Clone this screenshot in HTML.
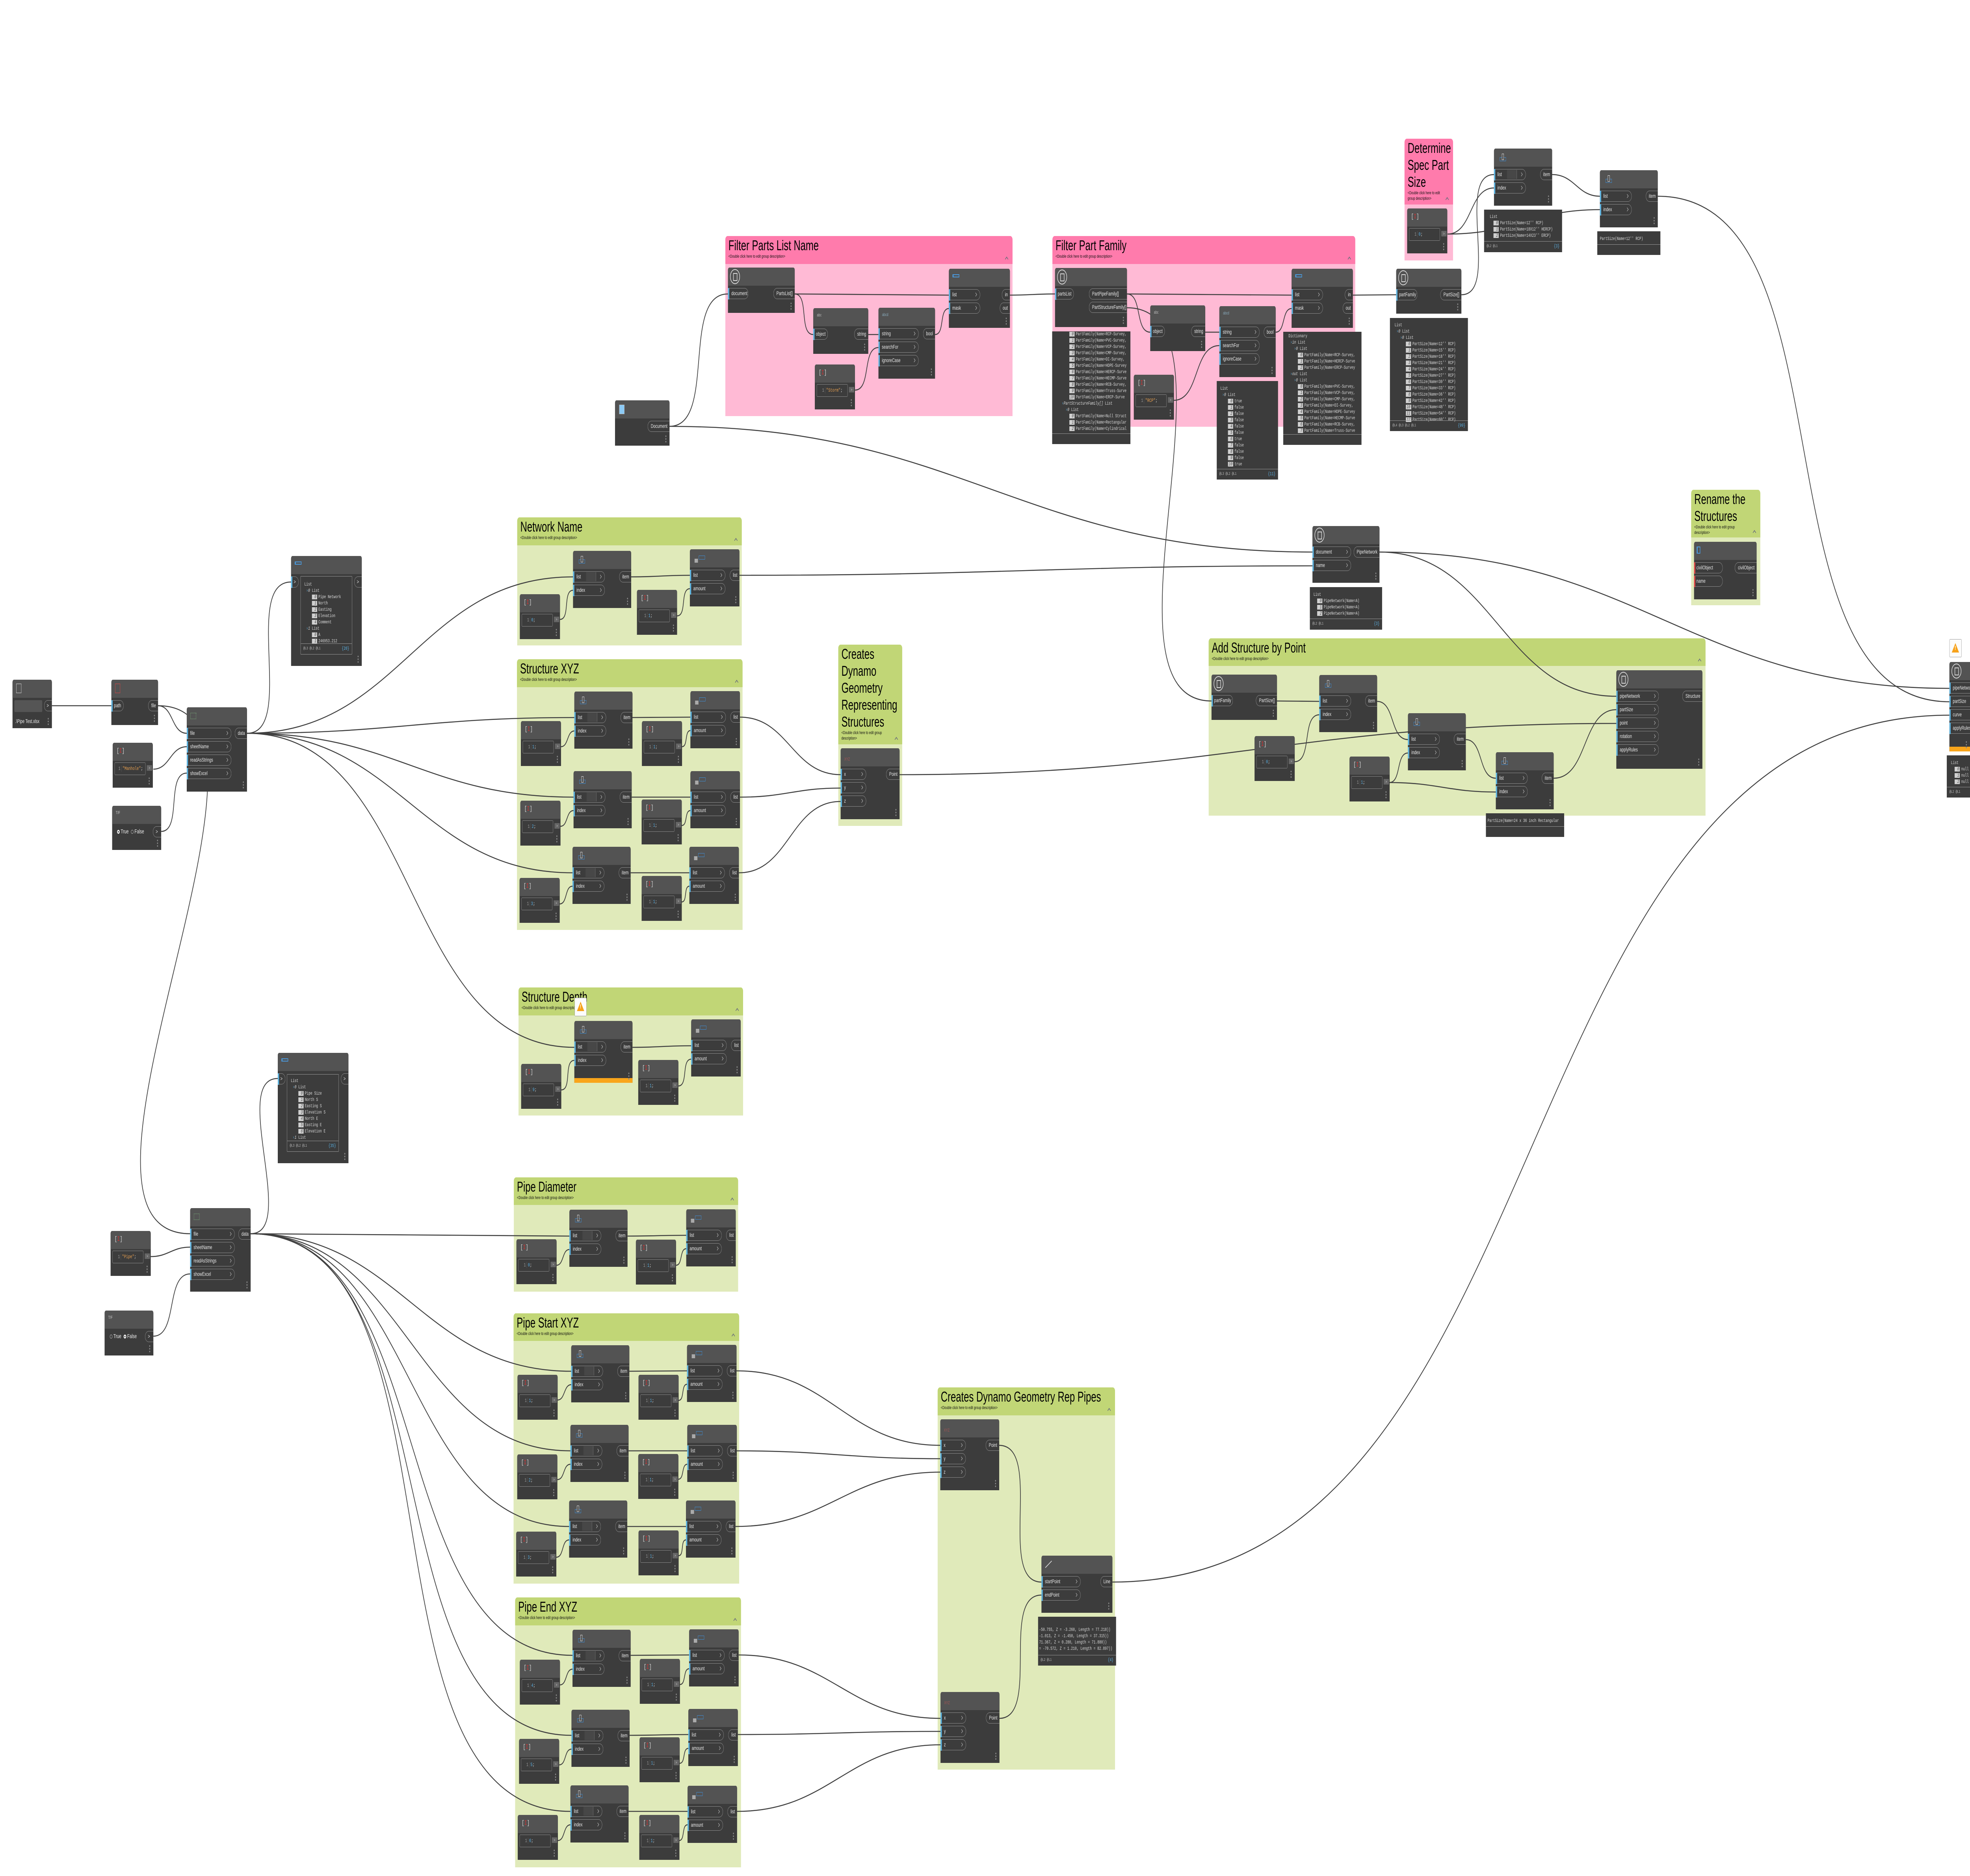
<!DOCTYPE html>
<html><head><meta charset="utf-8"><style>
*{box-sizing:border-box}
html,body{margin:0;padding:0;overflow:hidden;background:#fff}
body{width:100vw;height:100vh}
.root{position:absolute;left:0;top:0;width:100vw;height:100vh;display:block}
.pg{position:relative;width:7553px;height:4761px;overflow:hidden;background:#fff;font-family:"Liberation Sans",sans-serif}
.g{position:absolute;z-index:1;border-radius:9px 9px 0 0}
.gh{position:absolute;left:0;top:0;right:0;border-radius:9px 9px 0 0}
.gg{background:#e0eaba}.gg .gh{background:#c1d676}
.gp{background:#ffbad5}.gp .gh{background:#ff7bac}
.gt{font-size:36px;line-height:43px;padding:2px 0 0 12px;color:#000;white-space:nowrap}
.gd{font-size:11px;line-height:14px;padding-left:12px;color:#111;white-space:nowrap}
.ga{position:absolute;right:18px;bottom:8px;width:9px;height:9px;border-left:2px solid #6a6f7a;border-top:2px solid #6a6f7a;transform:rotate(45deg)}
.wires{position:absolute;left:0;top:0;z-index:2}
.n{position:absolute;z-index:3;background:#3c3c3c;border-radius:6px 6px 0 0}
.n::after{content:"";position:absolute;right:12px;bottom:8px;width:4px;height:4px;border-radius:50%;background:#888;box-shadow:0 -7px #888,0 -14px #888}
.h{position:absolute;left:0;top:0;right:0;height:46px;background:#535353;border-radius:6px 6px 0 0}
.i,.o{position:absolute;height:28px;border:1.5px solid #8f8f8f;font-size:14px;line-height:25px;color:#e8e8e8;white-space:nowrap}
.i{left:0;border-left:0;border-radius:0 14px 14px 0;padding-left:13px}
.i::before{content:"";position:absolute;left:0;top:-1.5px;bottom:-1.5px;width:5px;background:#5db5e3}
.i::after{content:"";position:absolute;right:13px;top:9px;width:6px;height:6px;border-top:1.5px solid #ddd;border-right:1.5px solid #ddd;transform:rotate(45deg)}
.i.nc::after{display:none}
.i.r::before{background:#e04545}
.o{right:0;border-right:0;border-radius:14px 0 0 14px;padding:0 8px 0 11px}
.p1{top:52px}.p2{top:86px}.p3{top:120px}.p4{top:154px}.p5{top:188px}
.gi{width:223px;height:145px}.gi .i{width:122px}
.ch{width:190px;height:145px}.ch .i{width:136px}
.cb{width:154px;height:114px}
.pt{width:226px;height:180px}.pt .i{width:98px}
.sp{position:absolute;left:50px;top:1px;width:38px;height:23px;background:#474747;border-right:1px solid #777}
.ig{position:absolute;left:22px;top:22px;width:24px;height:10px;border:1.5px solid #3f8fd8}
.ig::before{content:"";position:absolute;left:7px;top:-10px;width:6px;height:14px;border:1.5px solid #eee;background:#535353}
.ic{position:absolute;left:18px;top:24px;width:13px;height:10px;background:#aaa}
.ic::before{content:"";position:absolute;left:16px;top:-8px;width:22px;height:8px;border:1.5px solid #3f8fd8}
.cbi{position:absolute;left:15px;top:12px;font:17px/20px "Liberation Mono",monospace;color:#ddd}
.cbi b{color:#d03030;font-weight:normal}
.cc{position:absolute;left:8px;top:4px;width:38px;height:38px;border:2px solid #ddd;border-radius:50%}
.cc::before{content:"";position:absolute;left:10px;top:8px;width:12px;height:16px;border:2px solid #ddd}
.fi{position:absolute;left:14px;top:10px;width:20px;height:24px;border:1.5px solid #ddd}
.bl{position:absolute;left:14px;top:14px;width:26px;height:8px;border:2px solid #4a9be0;border-left-width:4px}
.xi{position:absolute;left:14px;top:14px;width:22px;height:16px;border:1.5px dotted #8c8;}
.tf{position:absolute;left:14px;top:12px;font-size:11px;color:#ccc}
.cx{position:absolute;left:7px;top:50px;width:119px;height:32px;border:1.5px solid #8a8a8a;border-radius:3px;font:13px/29px "Liberation Mono",monospace;color:#ddd;padding-left:20px;white-space:nowrap;overflow:hidden}
.cx s{text-decoration:none;color:#999;margin-right:4px;border-right:1px dotted #777;padding-right:3px}
.cx u{text-decoration:none;color:#5bb5ea}
.cx em{font-style:normal;color:#e8a050}
.co{position:absolute;left:131px;top:57px;width:20px;height:14px;background:#666;color:#ddd;font:9px/14px "Liberation Sans",sans-serif;text-align:center}
.tb{position:absolute;background:#555;border-radius:3px}
.tx{position:absolute;font-size:14px;line-height:18px;color:#eee;white-space:nowrap}
.rb{display:inline-block;width:10px;height:10px;border:1.5px solid #ccc;border-radius:50%;vertical-align:-1px}
.rb.on{border:3px solid #fff}
.w{position:absolute;z-index:3;background:#3c3c3c;overflow:hidden}
.w pre,.wb pre{margin:0;font:12px/16px "Liberation Mono",monospace;color:#ddd;padding-left:12px;white-space:pre}
.wb{position:absolute;border:1.5px solid #999;border-radius:2px;overflow:hidden}
.wf{position:absolute;left:0;right:0;bottom:0;height:27px;border-top:1.5px solid #999;font:10px/25px "Liberation Mono",monospace;color:#bbb;padding:0 10px;white-space:nowrap}
.wf span{float:right;color:#5bb5ea;font-size:12px}
.k{display:inline-block;background:#d0d0d0;color:#444;font-style:italic;min-width:20px;padding:0 3px;line-height:12px;margin-right:5px;text-align:right}
.a{color:#5bb5ea}
.ob{position:absolute;left:0;right:0;bottom:0;height:12px;background:#f9a51b}
.wr{position:absolute;z-index:4;background:#fcfcfc;border:1.5px solid #999;border-radius:3px}
.tri{position:absolute;left:8px;top:9px;width:0;height:0;border-left:14px solid transparent;border-right:14px solid transparent;border-bottom:24px solid #f7a21b}
.tri span{position:absolute;left:-3px;top:5px;color:#fff;font:bold 15px/16px "Liberation Sans",sans-serif}
</style></head><body>
<svg class="root" viewBox="0 0 7553 4761" preserveAspectRatio="none"><foreignObject x="0" y="0" width="7553" height="4761"><div class="pg">

<!-- GROUPS -->
<div class="g gp" style="left:2781px;top:599px;width:1101px;height:457px"><div class="gh" style="height:71px"><div class="gt">Filter Parts List Name</div><div class="gd">&lt;Double click here to edit group description&gt;</div><i class="ga"></i></div></div>
<div class="g gp" style="left:4035px;top:599px;width:1161px;height:484px"><div class="gh" style="height:71px"><div class="gt">Filter Part Family</div><div class="gd">&lt;Double click here to edit group description&gt;</div><i class="ga"></i></div></div>
<div class="g gp" style="left:5385px;top:352px;width:186px;height:309px"><div class="gh" style="height:167px"><div class="gt">Determine<br>Spec Part<br>Size</div><div class="gd">&lt;Double click here to edit<br>group description&gt;</div><i class="ga"></i></div></div>
<div class="g gg" style="left:1983px;top:1313px;width:861px;height:325px"><div class="gh" style="height:71px"><div class="gt">Network Name</div><div class="gd">&lt;Double click here to edit group description&gt;</div><i class="ga"></i></div></div>
<div class="g gg" style="left:1982px;top:1673px;width:865px;height:687px"><div class="gh" style="height:71px"><div class="gt">Structure XYZ</div><div class="gd">&lt;Double click here to edit group description&gt;</div><i class="ga"></i></div></div>
<div class="g gg" style="left:3214px;top:1636px;width:245px;height:460px"><div class="gh" style="height:253px"><div class="gt">Creates<br>Dynamo<br>Geometry<br>Representing<br>Structures</div><div class="gd">&lt;Double click here to edit group<br>description&gt;</div><i class="ga"></i></div></div>
<div class="g gg" style="left:4634px;top:1620px;width:1905px;height:450px"><div class="gh" style="height:70px"><div class="gt">Add Structure by Point</div><div class="gd">&lt;Double click here to edit group description&gt;</div><i class="ga"></i></div></div>
<div class="g gg" style="left:6484px;top:1243px;width:265px;height:293px"><div class="gh" style="height:121px"><div class="gt">Rename the<br>Structures</div><div class="gd">&lt;Double click here to edit group<br>description&gt;</div><i class="ga"></i></div></div>
<div class="g gg" style="left:1988px;top:2506px;width:861px;height:325px"><div class="gh" style="height:71px"><div class="gt">Structure Depth</div><div class="gd">&lt;Double click here to edit group description&gt;</div><i class="ga"></i></div></div>
<div class="g gg" style="left:1970px;top:2988px;width:860px;height:290px"><div class="gh" style="height:70px"><div class="gt">Pipe Diameter</div><div class="gd">&lt;Double click here to edit group description&gt;</div><i class="ga"></i></div></div>
<div class="g gg" style="left:1969px;top:3333px;width:865px;height:686px"><div class="gh" style="height:70px"><div class="gt">Pipe Start XYZ</div><div class="gd">&lt;Double click here to edit group description&gt;</div><i class="ga"></i></div></div>
<div class="g gg" style="left:1975px;top:4054px;width:866px;height:685px"><div class="gh" style="height:71px"><div class="gt">Pipe End XYZ</div><div class="gd">&lt;Double click here to edit group description&gt;</div><i class="ga"></i></div></div>
<div class="g gg" style="left:3595px;top:3521px;width:680px;height:970px"><div class="gh" style="height:71px"><div class="gt">Creates Dynamo Geometry Rep Pipes</div><div class="gd">&lt;Double click here to edit group description&gt;</div><i class="ga"></i></div></div>

<!-- WIRES -->
<svg class="wires" width="7553" height="4761" viewBox="0 0 7553 4761"><g fill="none" stroke="#404040" stroke-width="2.6">
<path d="M199 1791 C302 1791,324 1791,427 1791"/>
<path d="M606 1791 C665 1791,657 1861,716 1861"/>
<path d="M606 1791 C1212 1791,123 3131,729 3131"/>
<path d="M588 1952 C651 1952,653 1895,716 1895"/>
<path d="M618 2110 C698 2110,636 1962,716 1962"/>
<path d="M947 1861 C1136 1861,927 1477,1116 1477"/>
<path d="M947 1861 C1537 1861,1607 1464,2197 1464"/>
<path d="M947 1861 C1512 1861,1637 1821,2202 1821"/>
<path d="M947 1861 C1515 1861,1631 2023,2199 2023"/>
<path d="M947 1861 C1531 1861,1611 2215,2195 2215"/>
<path d="M947 1861 C1616 1861,1533 2658,2202 2658"/>
<path d="M578 3189 C646 3189,659 3165,729 3165"/>
<path d="M588 3391 C683 3391,634 3233,729 3233"/>
<path d="M961 3131 C1144 3131,882 2737,1065 2737"/>
<path d="M961 3131 C1511 3131,1633 3137,2183 3137"/>
<path d="M961 3131 C1536 3131,1615 3480,2190 3480"/>
<path d="M961 3131 C1566 3131,1582 3682,2187 3682"/>
<path d="M961 3131 C1604 3131,1539 3874,2182 3874"/>
<path d="M961 3131 C1696 3131,1460 4201,2195 4201"/>
<path d="M961 3131 C1758 3131,1394 4404,2191 4404"/>
<path d="M961 3131 C1821 3131,1327 4597,2187 4597"/>
<path d="M2147 1572 C2187 1572,2157 1498,2197 1498"/>
<path d="M2420 1464 C2521 1464,2544 1460,2645 1460"/>
<path d="M2596 1563 C2634 1563,2607 1494,2645 1494"/>
<path d="M2835 1460 C3824 1460,4043 1436,5032 1436"/>
<path d="M2151 1895 C2180 1895,2173 1855,2202 1855"/>
<path d="M2424 1821 C2524 1821,2547 1820,2647 1820"/>
<path d="M2615 1895 C2638 1895,2624 1854,2647 1854"/>
<path d="M2837 1820 C3023 1820,3037 1966,3223 1966"/>
<path d="M2149 2097 C2178 2097,2170 2057,2199 2057"/>
<path d="M2422 2023 C2523 2023,2546 2023,2647 2023"/>
<path d="M2614 2095 C2637 2095,2624 2057,2647 2057"/>
<path d="M2837 2023 C3011 2023,3049 2000,3223 2000"/>
<path d="M2146 2294 C2176 2294,2165 2249,2195 2249"/>
<path d="M2418 2215 C2519 2215,2542 2215,2643 2215"/>
<path d="M2614 2289 C2636 2289,2621 2249,2643 2249"/>
<path d="M2833 2215 C3027 2215,3029 2034,3223 2034"/>
<path d="M3449 1966 C4687 1966,4959 1836,6197 1836"/>
<path d="M2152 2766 C2193 2766,2161 2691,2202 2691"/>
<path d="M2425 2658 C2526 2658,2549 2654,2650 2654"/>
<path d="M2601 2756 C2639 2756,2612 2688,2650 2688"/>
<path d="M2134 3211 C2162 3211,2155 3171,2183 3171"/>
<path d="M2406 3137 C2507 3137,2530 3135,2631 3135"/>
<path d="M2592 3211 C2618 3211,2605 3169,2631 3169"/>
<path d="M2138 3553 C2167 3553,2161 3514,2190 3514"/>
<path d="M2413 3480 C2512 3480,2535 3479,2634 3479"/>
<path d="M2602 3554 C2625 3554,2611 3513,2634 3513"/>
<path d="M2824 3479 C3186 3479,3243 3668,3605 3668"/>
<path d="M2137 3755 C2166 3755,2158 3716,2187 3716"/>
<path d="M2410 3682 C2511 3682,2534 3682,2635 3682"/>
<path d="M2601 3754 C2624 3754,2612 3716,2635 3716"/>
<path d="M2824 3682 C3176 3682,3253 3702,3605 3702"/>
<path d="M2133 3952 C2163 3952,2152 3908,2182 3908"/>
<path d="M2405 3874 C2506 3874,2529 3874,2630 3874"/>
<path d="M2602 3948 C2624 3948,2608 3908,2630 3908"/>
<path d="M2820 3874 C3179 3874,3246 3736,3605 3736"/>
<path d="M2147 4276 C2175 4276,2167 4236,2195 4236"/>
<path d="M2418 4201 C2519 4201,2541 4200,2642 4200"/>
<path d="M2607 4275 C2631 4275,2618 4235,2642 4235"/>
<path d="M2832 4200 C3188 4200,3250 4361,3606 4361"/>
<path d="M2144 4479 C2172 4479,2163 4439,2191 4439"/>
<path d="M2414 4404 C2515 4404,2538 4402,2639 4402"/>
<path d="M2606 4475 C2629 4475,2616 4437,2639 4437"/>
<path d="M2829 4402 C3179 4402,3256 4394,3606 4394"/>
<path d="M2139 4671 C2167 4671,2159 4631,2187 4631"/>
<path d="M2410 4597 C2512 4597,2534 4597,2636 4597"/>
<path d="M2604 4671 C2627 4671,2613 4631,2636 4631"/>
<path d="M2826 4597 C3185 4597,3247 4428,3606 4428"/>
<path d="M3830 3668 C4003 3668,3820 4015,3993 4015"/>
<path d="M3831 4361 C3990 4361,3834 4048,3993 4048"/>
<path d="M4265 4015 C6016 4015,5723 1815,7474 1815"/>
<path d="M2567 1082 C2749 1082,2609 746,2791 746"/>
<path d="M2567 1082 C3686 1082,3913 1401,5032 1401"/>
<path d="M3047 746 C3103 746,3062 849,3118 849"/>
<path d="M3047 746 C3313 746,3372 749,3638 749"/>
<path d="M3329 849 C3347 849,3350 849,3368 849"/>
<path d="M3278 990 C3341 990,3305 882,3368 882"/>
<path d="M3585 849 C3623 849,3600 783,3638 783"/>
<path d="M3872 749 C3950 749,3967 746,4045 746"/>
<path d="M4321 746 C4380 746,4351 843,4410 843"/>
<path d="M4321 746 C4605 746,4668 749,4952 749"/>
<path d="M4321 781 C4793 781,4173 1779,4645 1779"/>
<path d="M4621 843 C4645 843,4651 843,4675 843"/>
<path d="M4500 1016 C4601 1016,4574 877,4675 877"/>
<path d="M4891 843 C4929 843,4914 783,4952 783"/>
<path d="M5187 749 C5262 749,5278 748,5353 748"/>
<path d="M5603 748 C5751 748,5580 443,5728 443"/>
<path d="M5550 594 C5646 594,5632 477,5728 477"/>
<path d="M5550 594 C5814 594,5870 532,6134 532"/>
<path d="M5951 443 C6037 443,6048 498,6134 498"/>
<path d="M6356 498 C7122 498,6708 1781,7474 1781"/>
<path d="M5289 1401 C5730 1401,5756 1767,6197 1767"/>
<path d="M5289 1401 C6284 1401,6479 1747,7474 1747"/>
<path d="M4896 1779 C4969 1779,4985 1780,5058 1780"/>
<path d="M4964 1933 C5032 1933,4990 1814,5058 1814"/>
<path d="M5280 1780 C5349 1780,5329 1877,5398 1877"/>
<path d="M5327 1986 C5373 1986,5352 1911,5398 1911"/>
<path d="M5327 1986 C5511 1986,5551 2010,5735 2010"/>
<path d="M5620 1877 C5688 1877,5667 1975,5735 1975"/>
<path d="M5957 1975 C6090 1975,6064 1801,6197 1801"/>
</g></svg>

<!-- LEFT NODES -->
<div class="n" style="left:48px;top:1725px;width:151px;height:123px"><div class="h"><i class="fi"></i></div><div class="tb" style="left:7px;top:52px;width:107px;height:30px"></div><div class="o p1" style="width:30px;padding:0 0 0 9px">&gt;</div><div class="tx" style="left:10px;top:96px">.\Pipe Test.xlsx</div></div>
<div class="n" style="left:427px;top:1725px;width:179px;height:115px"><div class="h"><i class="fi" style="border-color:#d44"></i></div><div class="i nc p1" style="width:47px;padding-left:10px">path</div><div class="o p1">file</div></div>
<div class="n" style="left:716px;top:1795px;width:231px;height:214px"><div class="h"><i class="xi"></i></div><div class="i p1" style="width:171px">file</div><div class="i p2" style="width:171px">sheetName</div><div class="i p3" style="width:171px">readAsStrings</div><div class="i p4" style="width:171px">showExcel</div><div class="o p1">data</div></div>
<div class="n cb" style="left:432px;top:1885px"><div class="h"><span class="cbi">[<b>I</b>]</span></div><div class="cx" style="padding-left:14px"><s>1</s><em>"Manhole"</em>;</div><div class="co">&gt;</div></div>
<div class="n" style="left:430px;top:2045px;width:188px;height:112px"><div class="h"><span class="tf">T/F</span></div><div class="tx" style="left:19px;top:57px;font-size:15px"><i class="rb on"></i> True &nbsp;<i class="rb"></i> False</div><div class="o p1" style="width:32px;padding:0 0 0 10px">&gt;</div></div>
<div class="n" style="left:1116px;top:1411px;width:271px;height:279px"><div class="h"><i class="bl"></i></div><div class="i nc p1" style="width:29px;padding-left:10px">&gt;</div><div class="o p1" style="width:29px;padding:0 0 0 9px">&gt;</div><div class="wb" style="left:36px;top:51px;width:198px;height:199px"><pre style="padding-top:12px;padding-left:14px">List
 <span class="a">›</span><i>0</i> List
    <span class="k">0</span>Pipe Network
    <span class="k">1</span>North
    <span class="k">2</span>Easting
    <span class="k">3</span>Elevation
    <span class="k">4</span>Comment
 <span class="a">›</span><i>1</i> List
    <span class="k">0</span>A
    <span class="k">1</span>246953.212</pre><div class="wf">@L3 @L2 @L1<span>{20}</span></div></div></div>

<div class="n" style="left:729px;top:3066px;width:232px;height:212px"><div class="h"><i class="xi"></i></div><div class="i p1" style="width:171px">file</div><div class="i p2" style="width:171px">sheetName</div><div class="i p3" style="width:171px">readAsStrings</div><div class="i p4" style="width:171px">showExcel</div><div class="o p1">data</div></div>
<div class="n cb" style="left:424px;top:3124px"><div class="h"><span class="cbi">[<b>I</b>]</span></div><div class="cx"><s>1</s><em>"Pipe"</em>;</div><div class="co">&gt;</div></div>
<div class="n" style="left:401px;top:3326px;width:187px;height:114px"><div class="h"><span class="tf">T/F</span></div><div class="tx" style="left:20px;top:57px;font-size:15px"><i class="rb"></i> True &nbsp;<i class="rb on"></i> False</div><div class="o p1" style="width:32px;padding:0 0 0 10px">&gt;</div></div>
<div class="n" style="left:1065px;top:2672px;width:271px;height:280px"><div class="h"><i class="bl"></i></div><div class="i nc p1" style="width:29px;padding-left:10px">&gt;</div><div class="o p1" style="width:29px;padding:0 0 0 9px">&gt;</div><div class="wb" style="left:35px;top:54px;width:199px;height:197px"><pre style="padding-top:8px;padding-left:14px">List
 <span class="a">›</span><i>0</i> List
    <span class="k">0</span>Pipe Size
    <span class="k">1</span>North S
    <span class="k">2</span>Easting S
    <span class="k">3</span>Elevation S
    <span class="k">4</span>North E
    <span class="k">5</span>Easting E
    <span class="k">6</span>Elevation E
 <span class="a">›</span><i>1</i> List</pre><div class="wf">@L3 @L2 @L1<span>{35}</span></div></div></div>

<!-- DOCUMENT -->
<div class="n" style="left:2358px;top:1016px;width:209px;height:115px"><div class="h"><i class="fi" style="border-color:#bbb;background:#8ccaf5;left:16px;top:11px"></i></div><div class="o p1">Document</div></div>

<!-- FILTER PARTS LIST NAME -->
<div class="n" style="left:2791px;top:679px;width:256px;height:115px"><div class="h"><i class="cc"></i></div><div class="i nc p1" style="width:78px">document</div><div class="o p1">PartsList[]</div></div>
<div class="n" style="left:3118px;top:782px;width:211px;height:116px"><div class="h"><span class="tf" style="color:#bbb">abc</span></div><div class="i nc p1" style="width:56px;padding-left:10px">object</div><div class="o p1">string</div></div>
<div class="n" style="left:3368px;top:781px;width:217px;height:180px"><div class="h"><span class="tf" style="color:#8ab">abcd</span></div><div class="i p1" style="width:154px">string</div><div class="i p2" style="width:154px">searchFor</div><div class="i p3" style="width:154px">ignoreCase</div><div class="o p1">bool</div></div>
<div class="n cb" style="left:3124px;top:925px"><div class="h"><span class="cbi">[<b>I</b>]</span></div><div class="cx"><s>1</s><em>"Storm"</em>;</div><div class="co">&gt;</div></div>
<div class="n" style="left:3638px;top:682px;width:234px;height:150px"><div class="h"><i class="bl"></i></div><div class="i p1" style="width:120px">list</div><div class="i p2" style="width:120px">mask</div><div class="o p1">in</div><div class="o p2">out</div></div>

<!-- FILTER PART FAMILY -->
<div class="n" style="left:4045px;top:680px;width:276px;height:150px"><div class="h"><i class="cc"></i></div><div class="i nc p1" style="width:72px;padding-left:10px">partsList</div><div class="o p1" style="width:146px">PartPipeFamily[]</div><div class="o p2" style="width:146px">PartStructureFamily[]</div></div>
<div class="w" style="left:4034px;top:841px;width:300px;height:286px"><pre style="margin-top:-1px;padding-left:8px">        <span class="k">0</span>PartFamily(Name=RCP-Survey,
        <span class="k">1</span>PartFamily(Name=PVC-Survey,
        <span class="k">2</span>PartFamily(Name=VCP-Survey,
        <span class="k">3</span>PartFamily(Name=CMP-Survey,
        <span class="k">4</span>PartFamily(Name=DI-Survey,
        <span class="k">5</span>PartFamily(Name=HDPE-Survey
        <span class="k">6</span>PartFamily(Name=HERCP-Surve
        <span class="k">7</span>PartFamily(Name=HECMP-Surve
        <span class="k">8</span>PartFamily(Name=RCB-Survey,
        <span class="k">9</span>PartFamily(Name=Truss-Surve
        <span class="k">10</span>PartFamily(Name=ERCP-Surve
    <span class="a">›</span><i>PartStructureFamily[]</i> List
      <span class="a">›</span><i>0</i> List
        <span class="k">0</span>PartFamily(Name=Null Struct
        <span class="k">1</span>PartFamily(Name=Rectangular
        <span class="k">2</span>PartFamily(Name=Cylindrical</pre><div class="wf"></div></div>
<div class="n" style="left:4410px;top:775px;width:211px;height:116px"><div class="h"><span class="tf" style="color:#bbb">abc</span></div><div class="i nc p1" style="width:56px;padding-left:10px">object</div><div class="o p1">string</div></div>
<div class="n" style="left:4675px;top:777px;width:216px;height:180px"><div class="h"><span class="tf" style="color:#8ab">abcd</span></div><div class="i p1" style="width:154px">string</div><div class="i p2" style="width:154px">searchFor</div><div class="i p3" style="width:154px">ignoreCase</div><div class="o p1">bool</div></div>
<div class="n cb" style="left:4347px;top:951px"><div class="h"><span class="cbi">[<b>I</b>]</span></div><div class="cx"><s>1</s><em>"RCP"</em>;</div><div class="co">&gt;</div></div>
<div class="w" style="left:4665px;top:967px;width:235px;height:250px"><pre style="padding-top:11px;padding-left:14px">List
 <span class="a">›</span><i>0</i> List
    <span class="k">0</span>true
    <span class="k">1</span>false
    <span class="k">2</span>false
    <span class="k">3</span>false
    <span class="k">4</span>false
    <span class="k">5</span>false
    <span class="k">6</span>true
    <span class="k">7</span>false
    <span class="k">8</span>false
    <span class="k">9</span>false
    <span class="k">10</span>true</pre><div class="wf">@L3 @L2 @L1<span>{11}</span></div></div>
<div class="n" style="left:4952px;top:682px;width:235px;height:150px"><div class="h"><i class="bl"></i></div><div class="i p1" style="width:120px">list</div><div class="i p2" style="width:120px">mask</div><div class="o p1">in</div><div class="o p2">out</div></div>
<div class="w" style="left:4920px;top:842px;width:300px;height:287px"><pre style="padding-top:3px;padding-left:20px">Dictionary
 <span class="a">›</span><i>in</i> List
   <span class="a">›</span><i>0</i> List
     <span class="k">0</span>PartFamily(Name=RCP-Survey,
     <span class="k">1</span>PartFamily(Name=HERCP-Surve
     <span class="k">2</span>PartFamily(Name=ERCP-Survey
 <span class="a">›</span><i>out</i> List
   <span class="a">›</span><i>0</i> List
     <span class="k">0</span>PartFamily(Name=PVC-Survey,
     <span class="k">1</span>PartFamily(Name=VCP-Survey,
     <span class="k">2</span>PartFamily(Name=CMP-Survey,
     <span class="k">3</span>PartFamily(Name=DI-Survey,
     <span class="k">4</span>PartFamily(Name=HDPE-Survey
     <span class="k">5</span>PartFamily(Name=HECMP-Surve
     <span class="k">6</span>PartFamily(Name=RCB-Survey,
     <span class="k">7</span>PartFamily(Name=Truss-Surve</pre><div class="wf"></div></div>

<!-- DETERMINE SPEC PART SIZE -->
<div class="n cb" style="left:5395px;top:529px"><div class="h"><span class="cbi">[<b>I</b>]</span></div><div class="cx"><s>1</s><u>0</u>;</div><div class="co">&gt;</div></div>
<div class="n gi" style="left:5728px;top:377px"><div class="h"><i class="ig"></i></div><div class="i p1">list<i class="sp"></i></div><div class="i p2">index</div><div class="o p1">item</div></div>
<div class="w" style="left:5690px;top:532px;width:299px;height:108px"><pre style="padding-top:10px;padding-left:22px">List
  <span class="k">0</span>PartSize(Name=12'' RCP)
  <span class="k">1</span>PartSize(Name=18X12'' HERCP)
  <span class="k">2</span>PartSize(Name=14X23'' ERCP)</pre><div class="wf" style="height:28px">@L2 @L1<span>{3}</span></div></div>
<div class="n gi" style="left:6134px;top:432px;width:222px"><div class="h"><i class="ig"></i></div><div class="i p1">list</div><div class="i p2">index</div><div class="o p1">item</div></div>
<div class="w" style="left:6124px;top:587px;width:242px;height:60px"><pre style="padding-top:11px;padding-left:10px">PartSize(Name=12'' RCP)</pre><div class="wf"></div></div>
<div class="n" style="left:5353px;top:682px;width:250px;height:114px"><div class="h"><i class="cc"></i></div><div class="i nc p1" style="width:81px;padding-left:11px">partFamily</div><div class="o p1">PartSize[]</div></div>
<div class="w" style="left:5329px;top:807px;width:299px;height:287px"><pre style="padding-top:10px;padding-left:18px">List
 <span class="a">›</span><i>0</i> List
   <span class="a">›</span><i>0</i> List
      <span class="k">0</span>PartSize(Name=12'' RCP)
      <span class="k">1</span>PartSize(Name=15'' RCP)
      <span class="k">2</span>PartSize(Name=18'' RCP)
      <span class="k">3</span>PartSize(Name=21'' RCP)
      <span class="k">4</span>PartSize(Name=24'' RCP)
      <span class="k">5</span>PartSize(Name=27'' RCP)
      <span class="k">6</span>PartSize(Name=30'' RCP)
      <span class="k">7</span>PartSize(Name=33'' RCP)
      <span class="k">8</span>PartSize(Name=36'' RCP)
      <span class="k">9</span>PartSize(Name=42'' RCP)
      <span class="k">10</span>PartSize(Name=48'' RCP)
      <span class="k">11</span>PartSize(Name=54'' RCP)
      <span class="k">12</span>PartSize(Name=60'' RCP)</pre><div class="wf">@L4 @L3 @L2 @L1<span>{99}</span></div></div>

<!-- PIPE NETWORK -->
<div class="n" style="left:5032px;top:1335px;width:257px;height:144px"><div class="h"><i class="cc"></i></div><div class="i p1" style="width:148px">document</div><div class="i p2" style="width:148px">name</div><div class="o p1">PipeNetwork</div></div>
<div class="w" style="left:5022px;top:1490px;width:277px;height:108px"><pre style="padding-top:11px;padding-left:14px">List
  <span class="k">0</span>PipeNetwork(Name=A)
  <span class="k">1</span>PipeNetwork(Name=A)
  <span class="k">2</span>PipeNetwork(Name=A)</pre><div class="wf" style="height:28px">@L2 @L1<span>{3}</span></div></div>

<!-- RENAME -->
<div class="n" style="left:6495px;top:1375px;width:240px;height:146px"><div class="h"><i class="bl" style="width:14px;height:18px;left:10px;top:12px"></i></div><div class="i r nc p1" style="width:110px;padding-left:9px">civilObject</div><div class="i r nc p2" style="width:110px;padding-left:9px">name</div><div class="o p1">civilObject</div></div>

<!-- NETWORK NAME -->
<div class="n gi" style="left:2197px;top:1398px"><div class="h"><i class="ig"></i></div><div class="i p1">list<i class="sp"></i></div><div class="i p2">index</div><div class="o p1">item</div></div>
<div class="n cb" style="left:1993px;top:1508px"><div class="h"><span class="cbi">[<b>I</b>]</span></div><div class="cx"><s>1</s><u>0</u>;</div><div class="co">&gt;</div></div>
<div class="n cb" style="left:2442px;top:1497px"><div class="h"><span class="cbi">[<b>I</b>]</span></div><div class="cx"><s>1</s><u>1</u>;</div><div class="co">&gt;</div></div>
<div class="n ch" style="left:2645px;top:1394px"><div class="h"><i class="ic"></i></div><div class="i p1">list</div><div class="i p2">amount</div><div class="o p1">list</div></div>

<!-- STRUCTURE XYZ -->
<div class="n gi" style="left:2202px;top:1755px"><div class="h"><i class="ig"></i></div><div class="i p1">list<i class="sp"></i></div><div class="i p2">index</div><div class="o p1">item</div></div>
<div class="n cb" style="left:1997px;top:1830px"><div class="h"><span class="cbi">[<b>I</b>]</span></div><div class="cx"><s>1</s><u>1</u>;</div><div class="co">&gt;</div></div>
<div class="n cb" style="left:2461px;top:1830px"><div class="h"><span class="cbi">[<b>I</b>]</span></div><div class="cx"><s>1</s><u>1</u>;</div><div class="co">&gt;</div></div>
<div class="n ch" style="left:2647px;top:1754px"><div class="h"><i class="ic"></i></div><div class="i p1">list</div><div class="i p2">amount</div><div class="o p1">list</div></div>
<div class="n gi" style="left:2199px;top:1957px"><div class="h"><i class="ig"></i></div><div class="i p1">list<i class="sp"></i></div><div class="i p2">index</div><div class="o p1">item</div></div>
<div class="n cb" style="left:1995px;top:2032px"><div class="h"><span class="cbi">[<b>I</b>]</span></div><div class="cx"><s>1</s><u>2</u>;</div><div class="co">&gt;</div></div>
<div class="n cb" style="left:2460px;top:2029px"><div class="h"><span class="cbi">[<b>I</b>]</span></div><div class="cx"><s>1</s><u>1</u>;</div><div class="co">&gt;</div></div>
<div class="n ch" style="left:2647px;top:1957px"><div class="h"><i class="ic"></i></div><div class="i p1">list</div><div class="i p2">amount</div><div class="o p1">list</div></div>
<div class="n gi" style="left:2195px;top:2149px"><div class="h"><i class="ig"></i></div><div class="i p1">list<i class="sp"></i></div><div class="i p2">index</div><div class="o p1">item</div></div>
<div class="n cb" style="left:1992px;top:2228px"><div class="h"><span class="cbi">[<b>I</b>]</span></div><div class="cx"><s>1</s><u>3</u>;</div><div class="co">&gt;</div></div>
<div class="n cb" style="left:2460px;top:2223px"><div class="h"><span class="cbi">[<b>I</b>]</span></div><div class="cx"><s>1</s><u>1</u>;</div><div class="co">&gt;</div></div>
<div class="n ch" style="left:2643px;top:2149px"><div class="h"><i class="ic"></i></div><div class="i p1">list</div><div class="i p2">amount</div><div class="o p1">list</div></div>

<!-- CREATES STRUCTURES POINT -->
<div class="n pt" style="left:3223px;top:1899px"><div class="h"><span class="tf" style="color:#a55;top:22px">XYZ</span></div><div class="i p1">x</div><div class="i p2">y</div><div class="i p3">z</div><div class="o p1">Point</div></div>

<!-- ADD STRUCTURE BY POINT -->
<div class="n" style="left:4645px;top:1712px;width:251px;height:115px"><div class="h"><i class="cc"></i></div><div class="i nc p1" style="width:82px;padding-left:10px">partFamily</div><div class="o p1">PartSize[]</div></div>
<div class="n gi" style="left:5058px;top:1713px;width:222px"><div class="h"><i class="ig"></i></div><div class="i p1">list</div><div class="i p2">index</div><div class="o p1">item</div></div>
<div class="n cb" style="left:4810px;top:1868px"><div class="h"><span class="cbi">[<b>I</b>]</span></div><div class="cx"><s>1</s><u>0</u>;</div><div class="co">&gt;</div></div>
<div class="n gi" style="left:5398px;top:1810px;width:222px"><div class="h"><i class="ig"></i></div><div class="i p1">list</div><div class="i p2">index</div><div class="o p1">item</div></div>
<div class="n cb" style="left:5174px;top:1920px"><div class="h"><span class="cbi">[<b>I</b>]</span></div><div class="cx"><s>1</s><u>1</u>;</div><div class="co">&gt;</div></div>
<div class="n gi" style="left:5735px;top:1909px;width:222px"><div class="h"><i class="ig"></i></div><div class="i p1">list</div><div class="i p2">index</div><div class="o p1">item</div></div>
<div class="w" style="left:5697px;top:2064px;width:300px;height:60px"><pre style="padding-top:11px;padding-left:6px">PartSize(Name=24 x 36 inch Rectangular</pre><div class="wf"></div></div>
<div class="n" style="left:6197px;top:1701px;width:330px;height:250px"><div class="h"><i class="cc"></i></div><div class="i p1" style="width:163px">pipeNetwork</div><div class="i p2" style="width:163px">partSize</div><div class="i p3" style="width:163px">point</div><div class="i p4" style="width:163px">rotation</div><div class="i p5" style="width:163px">applyRules</div><div class="o p1">Structure</div></div>

<!-- RIGHT EDGE NODE -->
<div class="wr" style="left:7474px;top:1622px;width:47px;height:46px"><div class="tri"><span>!</span></div></div>
<div class="n" style="left:7474px;top:1680px;width:79px;height:227px;overflow:hidden;border-radius:6px 0 0 0"><div class="h" style="border-radius:6px 0 0 0"><i class="cc"></i></div><div class="i nc p1" style="width:79px;border-right:0;border-radius:0">pipeNetwork</div><div class="i nc p2" style="width:79px;border-right:0;border-radius:0">partSize</div><div class="i nc p3" style="width:79px;border-right:0;border-radius:0">curve</div><div class="i nc p4" style="width:79px;border-right:0;border-radius:0">applyRules</div><div class="ob"></div></div>
<div class="w" style="left:7464px;top:1917px;width:89px;height:107px"><pre style="padding-top:11px;padding-left:16px">List
  <span class="k">0</span>null
  <span class="k">1</span>null
  <span class="k">2</span>null</pre><div class="wf">@L2 @L1</div></div>

<!-- STRUCTURE DEPTH -->
<div class="wr" style="left:2203px;top:2532px;width:46px;height:47px"><div class="tri"><span>!</span></div></div>
<div class="n gi" style="left:2202px;top:2591px;height:157px"><div class="h"><i class="ig"></i></div><div class="i p1">list<i class="sp"></i></div><div class="i p2">index</div><div class="o p1">item</div><div class="ob"></div></div>
<div class="n cb" style="left:1998px;top:2700px"><div class="h"><span class="cbi">[<b>I</b>]</span></div><div class="cx"><s>1</s><u>9</u>;</div><div class="co">&gt;</div></div>
<div class="n cb" style="left:2447px;top:2690px"><div class="h"><span class="cbi">[<b>I</b>]</span></div><div class="cx"><s>1</s><u>1</u>;</div><div class="co">&gt;</div></div>
<div class="n ch" style="left:2650px;top:2587px"><div class="h"><i class="ic"></i></div><div class="i p1">list</div><div class="i p2">amount</div><div class="o p1">list</div></div>

<!-- PIPE DIAMETER -->
<div class="n gi" style="left:2183px;top:3070px"><div class="h"><i class="ig"></i></div><div class="i p1">list<i class="sp"></i></div><div class="i p2">index</div><div class="o p1">item</div></div>
<div class="n cb" style="left:1980px;top:3145px"><div class="h"><span class="cbi">[<b>I</b>]</span></div><div class="cx"><s>1</s><u>0</u>;</div><div class="co">&gt;</div></div>
<div class="n cb" style="left:2438px;top:3146px"><div class="h"><span class="cbi">[<b>I</b>]</span></div><div class="cx"><s>1</s><u>1</u>;</div><div class="co">&gt;</div></div>
<div class="n ch" style="left:2631px;top:3069px"><div class="h"><i class="ic"></i></div><div class="i p1">list</div><div class="i p2">amount</div><div class="o p1">list</div></div>

<!-- PIPE START XYZ -->
<div class="n gi" style="left:2190px;top:3414px"><div class="h"><i class="ig"></i></div><div class="i p1">list<i class="sp"></i></div><div class="i p2">index</div><div class="o p1">item</div></div>
<div class="n cb" style="left:1984px;top:3489px"><div class="h"><span class="cbi">[<b>I</b>]</span></div><div class="cx"><s>1</s><u>1</u>;</div><div class="co">&gt;</div></div>
<div class="n cb" style="left:2448px;top:3489px"><div class="h"><span class="cbi">[<b>I</b>]</span></div><div class="cx"><s>1</s><u>1</u>;</div><div class="co">&gt;</div></div>
<div class="n ch" style="left:2634px;top:3413px"><div class="h"><i class="ic"></i></div><div class="i p1">list</div><div class="i p2">amount</div><div class="o p1">list</div></div>
<div class="n gi" style="left:2187px;top:3616px"><div class="h"><i class="ig"></i></div><div class="i p1">list<i class="sp"></i></div><div class="i p2">index</div><div class="o p1">item</div></div>
<div class="n cb" style="left:1983px;top:3691px"><div class="h"><span class="cbi">[<b>I</b>]</span></div><div class="cx"><s>1</s><u>2</u>;</div><div class="co">&gt;</div></div>
<div class="n cb" style="left:2447px;top:3690px"><div class="h"><span class="cbi">[<b>I</b>]</span></div><div class="cx"><s>1</s><u>1</u>;</div><div class="co">&gt;</div></div>
<div class="n ch" style="left:2635px;top:3616px"><div class="h"><i class="ic"></i></div><div class="i p1">list</div><div class="i p2">amount</div><div class="o p1">list</div></div>
<div class="n gi" style="left:2182px;top:3808px"><div class="h"><i class="ig"></i></div><div class="i p1">list<i class="sp"></i></div><div class="i p2">index</div><div class="o p1">item</div></div>
<div class="n cb" style="left:1979px;top:3887px"><div class="h"><span class="cbi">[<b>I</b>]</span></div><div class="cx"><s>1</s><u>3</u>;</div><div class="co">&gt;</div></div>
<div class="n cb" style="left:2448px;top:3884px"><div class="h"><span class="cbi">[<b>I</b>]</span></div><div class="cx"><s>1</s><u>1</u>;</div><div class="co">&gt;</div></div>
<div class="n ch" style="left:2630px;top:3808px"><div class="h"><i class="ic"></i></div><div class="i p1">list</div><div class="i p2">amount</div><div class="o p1">list</div></div>

<!-- PIPE END XYZ -->
<div class="n gi" style="left:2195px;top:4136px"><div class="h"><i class="ig"></i></div><div class="i p1">list<i class="sp"></i></div><div class="i p2">index</div><div class="o p1">item</div></div>
<div class="n cb" style="left:1993px;top:4212px"><div class="h"><span class="cbi">[<b>I</b>]</span></div><div class="cx"><s>1</s><u>4</u>;</div><div class="co">&gt;</div></div>
<div class="n cb" style="left:2453px;top:4210px"><div class="h"><span class="cbi">[<b>I</b>]</span></div><div class="cx"><s>1</s><u>1</u>;</div><div class="co">&gt;</div></div>
<div class="n ch" style="left:2642px;top:4135px"><div class="h"><i class="ic"></i></div><div class="i p1">list</div><div class="i p2">amount</div><div class="o p1">list</div></div>
<div class="n gi" style="left:2191px;top:4339px"><div class="h"><i class="ig"></i></div><div class="i p1">list<i class="sp"></i></div><div class="i p2">index</div><div class="o p1">item</div></div>
<div class="n cb" style="left:1990px;top:4413px"><div class="h"><span class="cbi">[<b>I</b>]</span></div><div class="cx"><s>1</s><u>5</u>;</div><div class="co">&gt;</div></div>
<div class="n cb" style="left:2452px;top:4409px"><div class="h"><span class="cbi">[<b>I</b>]</span></div><div class="cx"><s>1</s><u>1</u>;</div><div class="co">&gt;</div></div>
<div class="n ch" style="left:2639px;top:4337px"><div class="h"><i class="ic"></i></div><div class="i p1">list</div><div class="i p2">amount</div><div class="o p1">list</div></div>
<div class="n gi" style="left:2187px;top:4531px"><div class="h"><i class="ig"></i></div><div class="i p1">list<i class="sp"></i></div><div class="i p2">index</div><div class="o p1">item</div></div>
<div class="n cb" style="left:1985px;top:4606px"><div class="h"><span class="cbi">[<b>I</b>]</span></div><div class="cx"><s>1</s><u>6</u>;</div><div class="co">&gt;</div></div>
<div class="n cb" style="left:2451px;top:4606px"><div class="h"><span class="cbi">[<b>I</b>]</span></div><div class="cx"><s>1</s><u>1</u>;</div><div class="co">&gt;</div></div>
<div class="n ch" style="left:2636px;top:4532px"><div class="h"><i class="ic"></i></div><div class="i p1">list</div><div class="i p2">amount</div><div class="o p1">list</div></div>

<!-- PIPES GROUP -->
<div class="n pt" style="left:3605px;top:3602px"><div class="h"><span class="tf" style="color:#a55;top:22px">XYZ</span></div><div class="i p1">x</div><div class="i p2">y</div><div class="i p3">z</div><div class="o p1">Point</div></div>
<div class="n pt" style="left:3606px;top:4294px"><div class="h"><span class="tf" style="color:#a55;top:22px">XYZ</span></div><div class="i p1">x</div><div class="i p2">y</div><div class="i p3">z</div><div class="o p1">Point</div></div>
<div class="n" style="left:3993px;top:3948px;width:272px;height:145px"><div class="h"><i style="position:absolute;left:12px;top:21px;width:30px;height:2px;background:#ddd;transform:rotate(-35deg)"></i></div><div class="i p1" style="width:150px">startPoint</div><div class="i p2" style="width:150px">endPoint</div><div class="o p1">Line</div></div>
<div class="w" style="left:3980px;top:4103px;width:299px;height:124px"><pre style="padding-top:25px;padding-left:4px">-50.755, Z = -3.260, Length = 77.218))
-1.013, Z = -1.450, Length = 37.315))
71.367, Z = 0.280, Length = 71.880))
= -70.572, Z = 1.210, Length = 82.897))</pre><div class="wf">@L2 @L1<span>{4}</span></div></div>

</div></foreignObject></svg>
</body></html>
